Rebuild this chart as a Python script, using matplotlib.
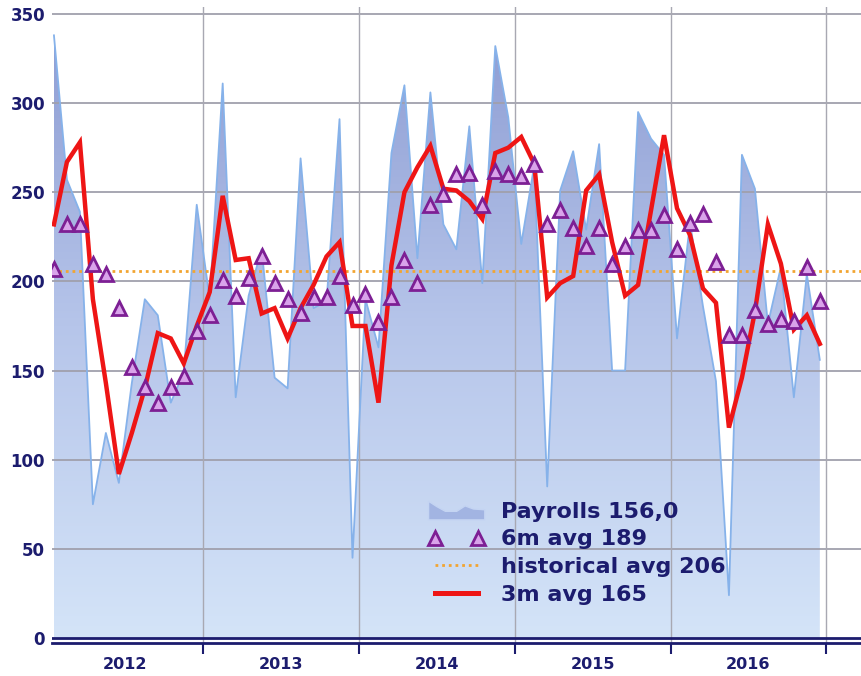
import numpy as np
import matplotlib

matplotlib.use("Agg")
import matplotlib.pyplot as plt
from matplotlib.colors import LinearSegmentedColormap
from matplotlib.legend_handler import HandlerBase
from matplotlib.lines import Line2D
from matplotlib.patches import PathPatch, Polygon

# monthly nonfarm payrolls, Jan 2012 .. Dec 2016 (thousands)
years = ["2012", "2013", "2014", "2015", "2016"]
payrolls = [
    338, 257, 239, 75, 115, 87, 143, 190, 181, 132, 149, 243,
    190, 311, 135, 192, 218, 146, 140, 269, 185, 189, 291, 45,
    190, 163, 272, 310, 213, 306, 232, 218, 287, 199, 332, 292,
    221, 265, 85, 251, 273, 229, 277, 150, 150, 295, 280, 271,
    168, 233, 186, 144, 24, 271, 252, 176, 208, 135, 204, 156,
]
avg_6m = [
    207, 232, 232, 210, 204, 185, 152, 141, 132, 141, 147, 172,
    181, 201, 192, 202, 214, 199, 190, 182, 191, 191, 203, 187,
    193, 177, 191, 212, 199, 243, 249, 260, 261, 243, 262, 260,
    259, 266, 232, 240, 230, 220, 230, 210, 220, 229, 229, 237,
    218, 233, 238, 211, 170, 170, 184, 176, 179, 178, 208, 189,
]
avg_3m = [
    232, 267, 278, 190, 143, 92, 115, 140, 171, 168, 154, 175,
    194, 248, 212, 213, 182, 185, 168, 185, 198, 214, 222, 175,
    175, 132, 209, 250, 264, 276, 252, 251, 245, 235, 272, 275,
    281, 266, 191, 199, 203, 251, 260, 222, 192, 198, 240, 282,
    241, 226, 196, 188, 118, 146, 183, 232, 210, 173, 181, 165,
]
historical_avg = 206
y_ticks = [0, 50, 100, 150, 200, 250, 300, 350]

NAVY = "#1c1c6e"
GRID = "#a0a0ac"


class WaveHandler(HandlerBase):
    """Small wavy area patch, like the payroll legend key."""

    shape = [(0, 1.05), (0.15, 0.7), (0.3, 0.4), (0.5, 0.4), (0.65, 0.75),
             (0.8, 0.55), (1.0, 0.5), (1.0, -0.15), (0.0, -0.15)]

    def create_artists(self, legend, orig_handle, xdescent, ydescent,
                       width, height, fontsize, trans):
        pts = [(-xdescent + px * width, -ydescent + py * height)
               for px, py in self.shape]
        patch = Polygon(pts, closed=True, facecolor="#a2b4e2",
                        edgecolor="#c4d4f2", lw=1, transform=trans)
        return [patch]


x = np.arange(len(payrolls))
centers = [12 * k + 5.5 for k in range(len(years))]
bounds = [12 * k + 11.5 for k in range(len(years))]

fig = plt.figure(figsize=(8.62, 6.76), dpi=100)
ax = fig.add_axes([52 / 862, 33 / 676, 810 / 862, 636 / 676])

# payroll area with a vertical gradient, clipped to the area under the line
cmap = LinearSegmentedColormap.from_list("pay", ["#d4e4f8", "#b6c5ea", "#8c9bd2"])
grad = np.linspace(0, 1, 256).reshape(-1, 1)
img = ax.imshow(grad, cmap=cmap, origin="lower", aspect="auto",
                extent=[x[0], x[-1], 0, 350], zorder=1)
area = ax.fill_between(x, 0, payrolls, facecolor="none", edgecolor="none")
clip = PathPatch(area.get_paths()[0], transform=ax.transData,
                 facecolor="none", edgecolor="none")
ax.add_patch(clip)
img.set_clip_path(clip)
ax.plot(x, payrolls, color="#86b2ea", lw=1.3, zorder=2)

for v in y_ticks[1:]:
    ax.axhline(v, color=GRID, lw=1.3, zorder=1.5)
for b in bounds:
    ax.axvline(b, color="#a8a8b2", lw=1.0, zorder=1.5)
ax.axhline(0, color=NAVY, lw=2, zorder=3)

ax.axhline(historical_avg, color="#f2a531", lw=2, ls=(0, (1, 1.4)), zorder=3)
ax.plot(x, avg_3m, color="#ee1515", lw=3.2, zorder=4, solid_joinstyle="miter")
ax.plot(x, avg_6m, ls="none", marker="^", ms=9.5, mfc="#d9a3ea",
        mec="#7d1f94", mew=2, zorder=5)

ax.set_xlim(-0.15, 62.25)
ax.set_ylim(-2.8, 353.9)

for side in ["left", "top", "right"]:
    ax.spines[side].set_visible(False)
ax.spines["bottom"].set_color(NAVY)
ax.spines["bottom"].set_linewidth(2)

ax.set_yticks(y_ticks)
ax.set_yticklabels([str(v) for v in y_ticks], fontsize=12,
                   fontweight="bold", color=NAVY)
ax.tick_params(axis="y", length=0, pad=5)
ax.set_xticks(centers)
ax.set_xticklabels(years, fontsize=11.5, fontweight="bold", color=NAVY)
ax.set_xticks(bounds, minor=True)
ax.tick_params(axis="x", which="major", length=0, pad=10)
ax.tick_params(axis="x", which="minor", length=8, width=1.5, color=NAVY)

handles = [
    Polygon([(0, 0)]),
    Line2D([], [], ls="none", marker="^", ms=9.5, mfc="#d9a3ea",
           mec="#7d1f94", mew=2),
    Line2D([], [], color="#f2a531", lw=2, ls=(0, (1, 1.4))),
    Line2D([], [], color="#ee1515", lw=3.6),
]
labels = [
    f"Payrolls {payrolls[-1]:.1f}".replace(".", ","),
    f"6m avg {avg_6m[-1]}",
    f"historical avg {historical_avg}",
    f"3m avg {avg_3m[-1]}",
]
fig.legend(handles, labels, loc="upper left",
           bbox_to_anchor=(413 / 862, 1 - 486 / 676),
           handler_map={Polygon: WaveHandler()}, numpoints=2,
           frameon=False, borderpad=0.2, labelspacing=0.35,
           handlelength=2.53, handletextpad=0.72,
           prop={"weight": "bold", "size": 16}, labelcolor=NAVY)

fig.savefig("out.png", dpi=100)
